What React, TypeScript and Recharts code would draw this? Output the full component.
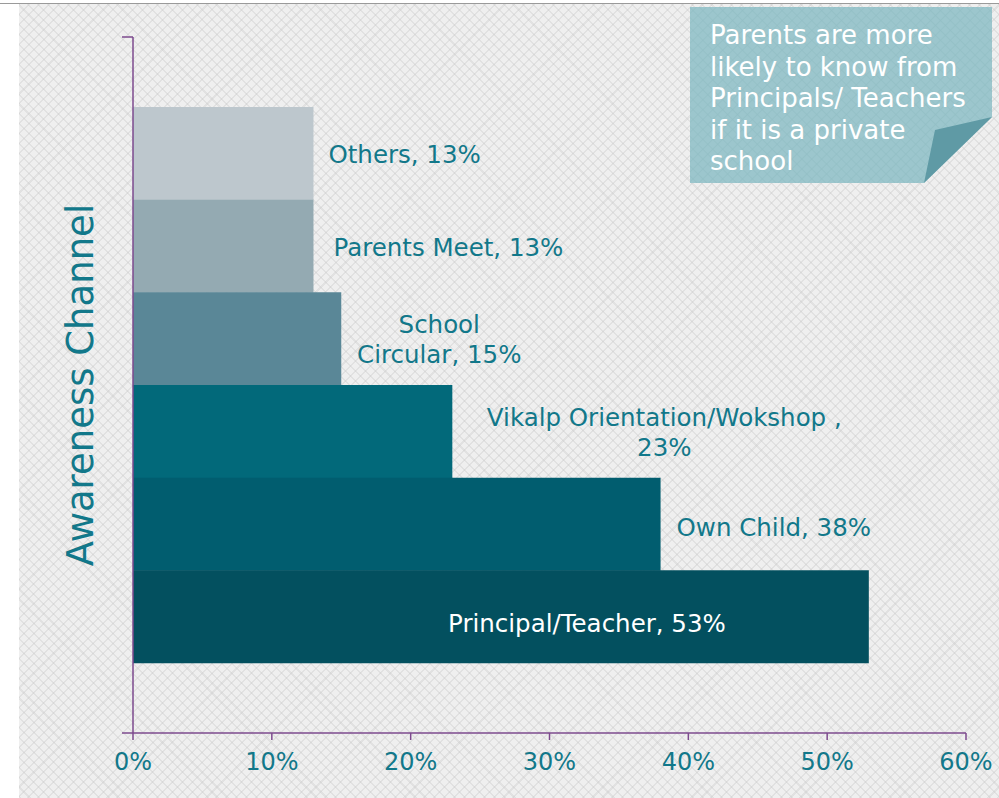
import React from 'react';
import { BarChart, Bar, XAxis, YAxis, Cell, LabelList, Label } from 'recharts';

const categories = [
  'Others',
  'Parents Meet',
  'School Circular',
  'Vikalp Orientation/Wokshop',
  'Own Child',
  'Principal/Teacher',
];
const shares = [13, 13, 15, 23, 38, 53];
const labelLines = [
  ['Others, 13%'],
  ['Parents Meet, 13%'],
  ['School', 'Circular, 15%'],
  ['Vikalp Orientation/Wokshop ,', '23%'],
  ['Own Child, 38%'],
  ['Principal/Teacher, 53%'],
];
const xTicks = [0, 10, 20, 30, 40, 50, 60];
const axisTitle = 'Awareness Channel';
const calloutLines = [
  'Parents are more',
  'likely to know from',
  'Principals/ Teachers',
  'if it is a private',
  'school',
];

const barColors = ['#bdc7cd', '#94aab2', '#5a8797', '#02697a', '#015d6f', '#03505f'];
const TEAL = '#12788a';
const PURPLE = '#7d4a8e';
const FONT = "'DejaVu Sans', sans-serif";

// label placement (Excel-style manually positioned labels)
const labelLayout = [
  { anchor: 'start', dx: 15, dy: 1, fill: TEAL },
  { anchor: 'start', dx: 20, dy: 1, fill: TEAL },
  { anchor: 'middle', dx: 98, dy: 1, fill: TEAL },
  { anchor: 'middle', dx: 212, dy: 1, fill: TEAL },
  { anchor: 'start', dx: 16, dy: 3, fill: TEAL },
  { anchor: 'end', dx: -143, dy: 7, fill: '#ffffff' },
];

const data = categories.map((name, i) => ({ name, value: shares[i], lines: labelLines[i] }));
// frame axis: tick marks only at the two ends of the category span
const frameTicks = [categories[0], categories[categories.length - 1]];

const renderLabel = (props: any) => {
  const vb = props.viewBox || props;
  const x = vb.x ?? props.x;
  const y = vb.y ?? props.y;
  const w = vb.width ?? props.width;
  const h = vb.height ?? props.height;
  const i = props.index;
  const lay = labelLayout[i];
  const lines = labelLines[i];
  const lh = 30;
  const cy = y + h / 2 + lay.dy;
  const startY = cy - ((lines.length - 1) * lh) / 2;
  return (
    <text textAnchor={lay.anchor} fontFamily={FONT} fontSize={24.5} fill={lay.fill}>
      {lines.map((ln: string, k: number) => (
        <tspan key={k} x={x + w + lay.dx} y={startY + k * lh} dominantBaseline="central">
          {ln}
        </tspan>
      ))}
    </text>
  );
};

const patternBg = {
  backgroundColor: '#efefef',
  backgroundImage:
    'repeating-linear-gradient(45deg, rgba(200,200,200,0.35) 0px, rgba(200,200,200,0.35) 1.5px, transparent 1.5px, transparent 7px),' +
    'repeating-linear-gradient(-45deg, rgba(200,200,200,0.35) 0px, rgba(200,200,200,0.35) 1.5px, transparent 1.5px, transparent 7px)',
};

export default function App() {
  return (
    <div style={{ position: 'absolute', left: 0, top: 0, width: 999, height: 798, background: '#ffffff', overflow: 'hidden' }}>
      <div style={{ position: 'absolute', left: 19, top: 4, width: 980, height: 794, ...patternBg }} />
      <div style={{ position: 'absolute', left: 0, top: 3, width: 999, height: 1, background: '#9a9a9a' }} />
      <div style={{ position: 'absolute', left: 0, top: 0 }}>
        <BarChart
          layout="vertical"
          width={999}
          height={798}
          data={data}
          margin={{ top: 37, right: 33, bottom: 0, left: 0 }}
          barCategoryGap={0}
        >
          <XAxis
            type="number"
            domain={[0, 60]}
            ticks={xTicks}
            interval={0}
            tickFormatter={(v: number) => `${v}%`}
            stroke={PURPLE}
            strokeWidth={1.5}
            tickSize={7}
            tickMargin={13}
            height={65}
            tick={{ fill: TEAL, fontSize: 24, fontFamily: FONT }}
          />
          <YAxis
            yAxisId="frame"
            type="category"
            dataKey="name"
            scale="point"
            ticks={frameTicks}
            interval={0}
            tickFormatter={() => ''}
            tickSize={11}
            width={133}
            stroke={PURPLE}
            strokeWidth={1.5}
          >
            <Label
              value={axisTitle}
              angle={-90}
              position="center"
              dx={13}
              style={{ fill: TEAL, fontSize: 37, fontFamily: FONT }}
            />
          </YAxis>
          <YAxis yAxisId="cat" type="category" dataKey="name" hide width={0} padding={{ top: 70, bottom: 70 }} />
          <Bar yAxisId="cat" dataKey="value" isAnimationActive={false}>
            {data.map((d, i) => (
              <Cell key={d.name} fill={barColors[i]} />
            ))}
            <LabelList dataKey="value" content={renderLabel} />
          </Bar>
        </BarChart>
      </div>
      <svg style={{ position: 'absolute', left: 0, top: 0 }} width={999} height={798}>
        <defs>
          <pattern id="calloutPat" width="7" height="7" patternUnits="userSpaceOnUse" patternTransform="rotate(45)">
            <rect width="7" height="7" fill="#9cc6cd" />
            <line x1="0" y1="0" x2="0" y2="7" stroke="#93bfc6" strokeWidth="1.5" />
            <line x1="0" y1="0" x2="7" y2="0" stroke="#93bfc6" strokeWidth="1.5" />
          </pattern>
        </defs>
        <polygon points="690,7 992,7 992,117 924,183 690,183" fill="url(#calloutPat)" />
        <polygon points="992,117 935,130 924,183" fill="#5f9aa5" />
        <text fontFamily={FONT} fontSize={26} fill="#ffffff">
          {calloutLines.map((ln, k) => (
            <tspan key={k} x={710} y={44 + k * 31.5}>
              {ln}
            </tspan>
          ))}
        </text>
      </svg>
    </div>
  );
}
